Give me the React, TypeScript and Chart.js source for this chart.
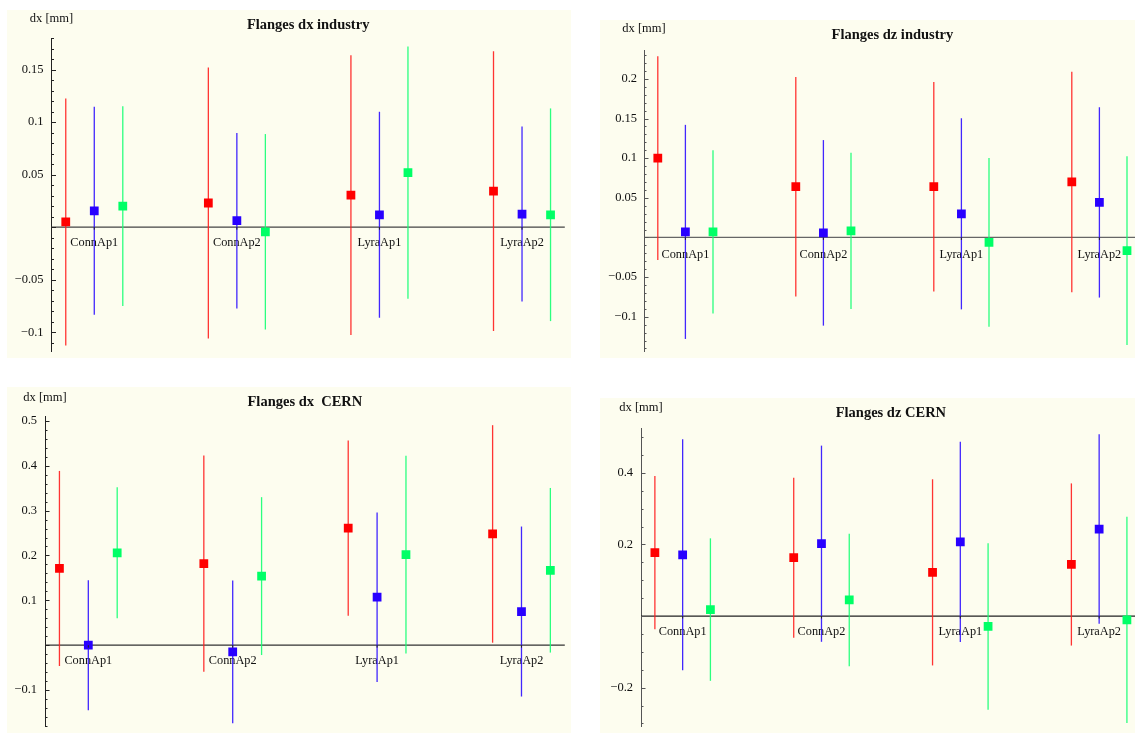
import React, { useEffect, useRef } from 'react';
import { Chart, registerables } from 'chart.js';

Chart.register(...registerables);

// ---------- data ----------
const categories = ['ConnAp1', 'ConnAp2', 'LyraAp1', 'LyraAp2'];
const categoryX = [1, 2, 3, 4];
const seriesOffsets = [-0.2, 0, 0.2];
const seriesColors = ['#ff0000', '#2800ff', '#00ff66'];
const barColors = ['rgba(255,30,30,0.9)', 'rgba(45,15,255,0.9)', 'rgba(20,255,115,0.9)'];

// Flanges dx industry
const dxIndRed = [0.005, 0.023, 0.0305, 0.0343];
const dxIndRedErr = [0.1175, 0.129, 0.133, 0.133];
const dxIndBlue = [0.0156, 0.0062, 0.0118, 0.0125];
const dxIndBlueErr = [0.099, 0.0835, 0.098, 0.0832];
const dxIndGreen = [0.02, -0.0044, 0.0518, 0.0118];
const dxIndGreenErr = [0.095, 0.093, 0.12, 0.1012];
const dxIndTicks = [-0.1, -0.05, 0.05, 0.1, 0.15];
const dxIndLabels = ['\u22120.1', '\u22120.05', '0.05', '0.1', '0.15'];

// Flanges dz industry
const dzIndRed = [0.1, 0.064, 0.064, 0.07];
const dzIndRedErr = [0.1285, 0.1385, 0.132, 0.139];
const dzIndBlue = [0.007, 0.0058, 0.0298, 0.0442];
const dzIndBlueErr = [0.135, 0.117, 0.1205, 0.12];
const dzIndGreen = [0.007, 0.0083, -0.0062, -0.0165];
const dzIndGreenErr = [0.103, 0.0985, 0.1065, 0.119];
const dzIndTicks = [-0.1, -0.05, 0.05, 0.1, 0.15, 0.2];
const dzIndLabels = ['\u22120.1', '\u22120.05', '0.05', '0.1', '0.15', '0.2'];

// Flanges dx CERN
const dxCernRed = [0.171, 0.182, 0.261, 0.248];
const dxCernRedErr = [0.2175, 0.241, 0.1955, 0.2425];
const dxCernBlue = [0.0, -0.015, 0.107, 0.075];
const dxCernBlueErr = [0.145, 0.159, 0.189, 0.1895];
const dxCernGreen = [0.206, 0.154, 0.202, 0.167];
const dxCernGreenErr = [0.146, 0.176, 0.2205, 0.1835];
const dxCernTicks = [-0.1, 0.1, 0.2, 0.3, 0.4, 0.5];
const dxCernLabels = ['\u22120.1', '0.1', '0.2', '0.3', '0.4', '0.5'];

// Flanges dz CERN
const dzCernRed = [0.177, 0.163, 0.122, 0.144];
const dzCernRedErr = [0.214, 0.2235, 0.26, 0.2265];
const dzCernBlue = [0.171, 0.202, 0.207, 0.243];
const dzCernBlueErr = [0.3225, 0.274, 0.2795, 0.2645];
const dzCernGreen = [0.018, 0.045, -0.029, -0.011];
const dzCernGreenErr = [0.199, 0.185, 0.2325, 0.288];
const dzCernTicks = [-0.2, 0.2, 0.4];
const dzCernLabels = ['\u22120.2', '0.2', '0.4'];

const yAxisTitle = 'dx [mm]';
const BG = '#fdfdef';
const SERIF = '"Liberation Serif", "DejaVu Serif", serif';

// ---------- panel layout ----------
const panels: any[] = [
  {
    title: 'Flanges dx industry',
    left: 7, top: 10, width: 564, height: 348,
    axisW: 44.5, padTop: 28, padBottom: 1, padRight: 1,
    yMin: -0.1186, yMax: 0.18, minorStep: 0.01,
    ticks: dxIndTicks, labels: dxIndLabels,
    values: [dxIndRed, dxIndBlue, dxIndGreen],
    errors: [dxIndRedErr, dxIndBlueErr, dxIndGreenErr],
    axisColor: '#222', zeroColor: '#444',
    titleOff: 9.5, yTitleOff: 16.3, catOff: 19, tickPad: 8,
  },
  {
    title: 'Flanges dz industry',
    left: 600, top: 20, width: 547, height: 338,
    axisW: 44, padTop: 30, padBottom: 1, padRight: 1,
    yMin: -0.1442, yMax: 0.2364, minorStep: 0.01,
    ticks: dzIndTicks, labels: dzIndLabels,
    values: [dzIndRed, dzIndBlue, dzIndGreen],
    errors: [dzIndRedErr, dzIndBlueErr, dzIndGreenErr],
    axisColor: '#555', zeroColor: '#666',
    titleOff: 11.5, yTitleOff: 18.3, catOff: 20.5, tickPad: 7,
  },
  {
    title: 'Flanges dx  CERN',
    left: 7, top: 387, width: 564, height: 346,
    axisW: 38, padTop: 29.7, padBottom: 1, padRight: 6,
    yMin: -0.182, yMax: 0.5094, minorStep: 0.02,
    ticks: dxCernTicks, labels: dxCernLabels,
    values: [dxCernRed, dxCernBlue, dxCernGreen],
    errors: [dxCernRedErr, dxCernBlueErr, dxCernGreenErr],
    axisColor: '#222', zeroColor: '#333',
    titleOff: 11, yTitleOff: 16, catOff: 19.3, tickPad: 8,
  },
  {
    title: 'Flanges dz CERN',
    left: 600, top: 398, width: 547, height: 335,
    axisW: 41, padTop: 30.3, padBottom: 1, padRight: 2,
    yMin: -0.3094, yMax: 0.5244, minorStep: 0.05,
    ticks: dzCernTicks, labels: dzCernLabels,
    values: [dzCernRed, dzCernBlue, dzCernGreen],
    errors: [dzCernRedErr, dzCernBlueErr, dzCernGreenErr],
    axisColor: '#555', zeroColor: '#222',
    titleOff: 11.5, yTitleOff: 17.3, catOff: 19, tickPad: 8,
  },
];

function makeDecor(p: any) {
  return {
    id: 'decor',
    beforeDatasetsDraw(chart: any) {
      const { ctx, chartArea, scales } = chart;
      const x = scales.x;
      const y = scales.y;
      const y0 = y.getPixelForValue(0);
      ctx.save();
      // zero line (x axis)
      ctx.strokeStyle = p.zeroColor;
      ctx.lineWidth = 1.2;
      ctx.beginPath();
      ctx.moveTo(chartArea.left, y0);
      ctx.lineTo(chartArea.right, y0);
      ctx.stroke();
      // category labels
      ctx.fillStyle = '#111';
      ctx.font = `12.3px ${SERIF}`;
      ctx.textAlign = 'center';
      ctx.textBaseline = 'alphabetic';
      categories.forEach((c, i) => {
        ctx.fillText(c, x.getPixelForValue(categoryX[i]), y0 + p.catOff);
      });
      // error bars
      chart.data.datasets.forEach((ds: any, di: number) => {
        ctx.strokeStyle = barColors[di];
        ctx.lineWidth = 1.3;
        ds.data.forEach((pt: any) => {
          const px = x.getPixelForValue(pt.x);
          ctx.beginPath();
          ctx.moveTo(px, y.getPixelForValue(pt.y - pt.err));
          ctx.lineTo(px, y.getPixelForValue(pt.y + pt.err));
          ctx.stroke();
        });
      });
      ctx.restore();
    },
    afterDatasetsDraw(chart: any) {
      const { ctx, scales } = chart;
      const x = scales.x;
      const y = scales.y;
      const y0 = y.getPixelForValue(0);
      ctx.save();
      ctx.strokeStyle = '#222';
      ctx.lineWidth = 1;
      categoryX.forEach((cx) => {
        const px = x.getPixelForValue(cx);
        ctx.beginPath();
        ctx.moveTo(px, y0);
        ctx.lineTo(px, y0 + 2.5);
        ctx.stroke();
      });
      ctx.restore();
    },
    afterDraw(chart: any) {
      const { ctx, chartArea, scales } = chart;
      const y = scales.y;
      const ax = chartArea.left;
      ctx.save();
      // y axis ticks (inward)
      ctx.strokeStyle = p.axisColor;
      ctx.lineWidth = 1;
      const k0 = Math.ceil(p.yMin / p.minorStep - 1e-6);
      const k1 = Math.floor(p.yMax / p.minorStep + 1e-6);
      for (let k = k0; k <= k1; k++) {
        const v = k * p.minorStep;
        const major = p.ticks.some((t: number) => Math.abs(t - v) < 1e-6) || Math.abs(v) < 1e-9;
        const py = Math.round(y.getPixelForValue(v)) + 0.5;
        ctx.beginPath();
        ctx.moveTo(ax, py);
        ctx.lineTo(ax + (major ? 4.5 : 2.5), py);
        ctx.stroke();
      }
      // title
      ctx.fillStyle = '#111';
      ctx.textBaseline = 'alphabetic';
      ctx.textAlign = 'center';
      ctx.font = `bold 14.5px ${SERIF}`;
      ctx.fillText(p.title, (chartArea.left + chartArea.right) / 2, chartArea.top - p.titleOff);
      // y axis title
      ctx.font = `12.5px ${SERIF}`;
      ctx.fillText(yAxisTitle, ax, chartArea.top - p.yTitleOff);
      ctx.restore();
    },
  };
}

function Panel({ p }: { p: any }) {
  const ref = useRef<HTMLCanvasElement | null>(null);
  useEffect(() => {
    if (!ref.current) return;
    const datasets = p.values.map((vals: number[], si: number) => ({
      label: 'series' + si,
      data: vals.map((v, i) => ({ x: categoryX[i] + seriesOffsets[si], y: v, err: p.errors[si][i] })),
      backgroundColor: seriesColors[si],
      borderColor: seriesColors[si],
      pointStyle: 'rect',
      pointRadius: 6.2,
      pointHoverRadius: 6.2,
      pointBorderWidth: 0,
      showLine: false,
    }));
    const chart = new Chart(ref.current, {
      type: 'scatter',
      data: { datasets },
      options: {
        animation: false,
        responsive: false,
        events: [],
        layout: { padding: { left: 0, top: p.padTop, right: p.padRight, bottom: p.padBottom } },
        plugins: { legend: { display: false }, title: { display: false }, tooltip: { enabled: false } },
        scales: {
          x: { type: 'linear', min: 0.7, max: 4.3, display: false },
          y: {
            type: 'linear',
            min: p.yMin,
            max: p.yMax,
            afterBuildTicks: (s: any) => {
              s.ticks = p.ticks.map((v: number) => ({ value: v }));
            },
            afterFit: (s: any) => {
              s.width = p.axisW;
              s.paddingTop = 0;
              s.paddingBottom = 0;
              s.paddingLeft = 0;
              s.paddingRight = 0;
            },
            grid: { display: false, drawTicks: false },
            border: { display: true, color: p.axisColor, width: 1 },
            ticks: {
              padding: p.tickPad,
              color: '#111',
              autoSkip: false,
              font: { family: SERIF, size: 12.5 },
              callback: (_v: any, i: number) => p.labels[i],
            },
          },
        },
      } as any,
      plugins: [makeDecor(p)],
    } as any);
    return () => chart.destroy();
  }, [p]);
  return (
    <canvas
      ref={ref}
      width={p.width}
      height={p.height}
      style={{ position: 'absolute', left: p.left, top: p.top, width: p.width, height: p.height, background: BG }}
    />
  );
}

export default function App() {
  return (
    <div style={{ position: 'fixed', left: 0, top: 0, width: 1135, height: 733, overflow: 'hidden', background: '#fff' }}>
      {panels.map((p, i) => (
        <Panel key={i} p={p} />
      ))}
    </div>
  );
}
